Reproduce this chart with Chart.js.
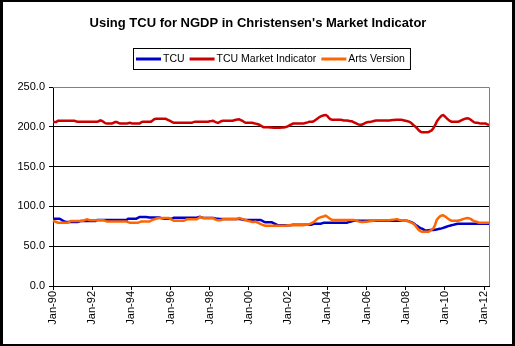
<!DOCTYPE html>
<html>
<head>
<meta charset="utf-8">
<script src="https://cdn.jsdelivr.net/npm/chart.js@4.4.1/dist/chart.umd.min.js"></script>
<style>
  body { margin: 0; background: #fff; }
  #wrap { width: 515px; height: 346px; }
</style>
</head>
<body>
<div id="wrap"><canvas id="chart" width="515" height="346"></canvas></div>
<script>
// categories: monthly, Jan-90 .. Apr-12
const monthNames = ['Jan','Feb','Mar','Apr','May','Jun','Jul','Aug','Sep','Oct','Nov','Dec'];
const years = ['90','91','92','93','94','95','96','97','98','99','00','01',
               '02','03','04','05','06','07','08','09','10','11','12'];
let months = [];
years.forEach(function (y, k) {
    let n = (k === years.length - 1) ? 4 : 12;
    for (let m = 0; m < n; m++) months.push(monthNames[m] + '-' + y);
});

const yTicks = [0, 50, 100, 150, 200, 250];

// TCU
const tcu = [
    84.5, 84.5, 84.5, 84.5, 84.5, 83.5, 82.0, 81.2, 80.5, 80.5, 80.5, 80.5,
    80.5, 80.5, 80.5, 80.5, 81.0, 81.8, 81.8, 81.8, 81.8, 81.8, 81.8, 81.8,
    81.8, 81.8, 81.8, 83.0, 83.0, 83.0, 83.0, 83.0, 83.0, 83.0, 83.0, 83.0,
    83.0, 83.0, 83.0, 83.0, 83.0, 83.0, 83.0, 83.0, 83.0, 83.0, 84.5, 84.5,
    84.5, 84.5, 84.5, 84.5, 85.5, 86.7, 86.7, 86.7, 86.7, 86.7, 86.5, 86.2,
    86.2, 86.2, 86.2, 86.2, 86.2, 86.2, 85.5, 85.0, 84.6, 84.6, 84.6, 84.6,
    84.6, 84.6, 85.8, 85.8, 85.8, 85.8, 85.8, 85.8, 85.8, 85.8, 85.8, 85.8,
    85.8, 85.8, 85.8, 85.8, 85.8, 86.4, 87.0, 86.0, 85.4, 85.4, 85.4, 85.4,
    85.4, 85.4, 85.4, 85.0, 84.6, 84.6, 84.2, 84.2, 84.2, 84.2, 84.2, 84.2,
    84.2, 84.2, 84.2, 84.2, 84.2, 84.2, 84.2, 84.0, 83.5, 83.0, 83.0, 83.0,
    83.0, 83.0, 83.0, 83.0, 83.0, 83.0, 83.0, 83.0, 82.0, 81.0, 80.0, 80.0,
    80.0, 80.0, 80.0, 79.0, 78.0, 77.0, 76.2, 76.2, 76.2, 76.2, 76.2, 76.2,
    76.2, 76.2, 76.6, 77.0, 77.0, 77.0, 77.0, 77.0, 77.0, 77.0, 77.0, 77.0,
    77.0, 77.0, 77.0, 77.5, 78.3, 78.3, 78.3, 78.3, 78.3, 79.0, 79.5, 79.5,
    79.5, 79.5, 79.5, 79.5, 79.5, 79.5, 79.5, 79.5, 79.5, 79.5, 79.5, 79.5,
    79.5, 80.2, 80.8, 81.4, 82.0, 82.0, 82.0, 82.0, 82.0, 82.0, 82.0, 82.0,
    82.0, 82.0, 82.0, 82.0, 82.0, 82.0, 82.0, 82.0, 82.0, 82.0, 82.0, 82.0,
    82.0, 82.0, 82.0, 82.0, 82.0, 82.0, 82.0, 82.0, 82.0, 82.0, 82.0, 82.0,
    82.0, 81.8, 81.2, 80.5, 79.5, 78.5, 76.6, 75.5, 74.0, 72.8, 72.0, 70.8,
    69.5, 69.8, 70.0, 70.2, 70.3, 70.3, 70.7, 71.1, 71.5, 72.0, 72.4, 73.1,
    73.8, 74.5, 75.2, 75.8, 76.3, 76.8, 77.3, 77.8, 78.3, 78.3, 78.3, 78.3,
    78.3, 78.3, 78.3, 78.3, 78.3, 78.3, 78.3, 78.3, 78.3, 78.3, 78.3, 78.3,
    78.3, 78.3, 78.3, 78.3
];

// TCU Market Indicator
const market = [
    206.0, 206.0, 206.0, 207.6, 207.6, 207.6, 207.6, 207.6, 207.6, 207.6, 207.6, 207.6,
    207.6, 207.6, 207.0, 206.5, 206.5, 206.5, 206.5, 206.5, 206.5, 206.5, 206.5, 206.5,
    206.5, 206.5, 206.5, 206.5, 207.0, 208.0, 207.5, 206.0, 204.5, 204.0, 204.0, 204.0,
    204.0, 205.0, 206.0, 206.0, 205.0, 204.0, 204.0, 204.0, 204.0, 204.0, 204.5, 205.0,
    204.5, 204.0, 204.0, 204.0, 204.0, 204.0, 205.5, 206.5, 206.5, 206.5, 206.5, 206.5,
    206.5, 208.0, 209.5, 210.0, 210.0, 210.0, 210.0, 210.0, 210.0, 210.0, 209.0, 208.0,
    207.0, 206.0, 205.0, 205.0, 205.0, 205.0, 205.0, 205.0, 205.0, 205.0, 205.0, 205.0,
    205.0, 205.0, 205.8, 206.5, 206.5, 206.5, 206.5, 206.5, 206.5, 206.5, 206.5, 206.5,
    207.0, 207.2, 207.6, 206.5, 205.5, 205.0, 206.0, 207.0, 207.6, 207.6, 207.6, 207.6,
    207.6, 207.6, 207.6, 208.2, 208.8, 209.2, 209.5, 208.5, 207.5, 206.0, 205.0, 205.0,
    205.0, 205.0, 205.0, 204.5, 204.0, 203.5, 203.0, 202.0, 200.5, 199.5, 199.3, 199.3,
    199.3, 199.0, 199.0, 198.8, 198.8, 198.8, 198.8, 198.8, 199.0, 199.0, 199.3, 200.0,
    201.0, 202.0, 203.0, 204.0, 204.0, 204.0, 204.0, 204.0, 204.0, 204.0, 204.5, 205.0,
    205.5, 206.5, 206.5, 206.5, 207.5, 209.0, 210.5, 212.0, 213.0, 214.0, 214.4, 214.8,
    213.5, 211.0, 209.5, 209.0, 209.0, 209.0, 209.0, 209.0, 209.0, 208.5, 208.0, 208.0,
    208.0, 207.5, 207.0, 207.0, 206.0, 205.0, 204.0, 203.0, 202.6, 202.6, 203.5, 204.5,
    205.5, 206.0, 206.0, 206.5, 207.0, 207.5, 208.0, 208.0, 208.0, 208.0, 208.0, 208.0,
    208.0, 208.0, 208.0, 208.2, 208.4, 208.6, 208.8, 209.0, 209.0, 209.0, 208.5, 208.0,
    207.5, 207.0, 206.5, 205.5, 203.5, 201.5, 200.0, 198.0, 195.5, 194.0, 193.0, 193.0,
    193.0, 193.0, 193.5, 194.5, 195.7, 198.5, 202.0, 206.5, 209.5, 212.0, 214.0, 214.7,
    213.0, 211.0, 209.0, 207.5, 206.5, 206.5, 206.5, 206.5, 206.5, 207.0, 208.0, 209.0,
    210.0, 210.5, 210.6, 210.0, 208.5, 207.0, 205.5, 205.0, 205.0, 204.5, 204.0, 204.0,
    204.0, 204.0, 203.0, 202.5
];

// Arts Version
const arts = [
    82.0, 81.2, 80.4, 79.5, 79.5, 79.5, 79.5, 79.5, 79.5, 79.5, 80.6, 81.8,
    81.8, 81.8, 81.8, 81.8, 81.8, 81.8, 81.8, 82.5, 83.2, 83.7, 83.0, 82.5,
    82.5, 82.5, 82.5, 82.5, 82.5, 82.5, 82.5, 82.5, 81.8, 81.0, 81.0, 81.0,
    81.0, 81.0, 81.0, 81.0, 81.0, 81.0, 81.0, 81.0, 81.0, 81.0, 80.2, 79.5,
    79.5, 79.5, 79.5, 79.5, 79.5, 80.2, 81.0, 81.0, 81.0, 81.0, 81.0, 81.0,
    82.0, 83.0, 83.7, 84.5, 85.0, 85.4, 85.4, 85.4, 85.4, 85.4, 85.4, 85.4,
    84.0, 83.0, 82.0, 82.0, 82.0, 82.0, 82.0, 82.0, 82.0, 82.8, 83.7, 83.7,
    83.7, 83.7, 83.7, 83.7, 83.7, 85.0, 86.6, 86.0, 85.4, 85.4, 85.4, 85.4,
    85.4, 85.4, 85.4, 84.0, 83.0, 82.5, 82.5, 83.0, 83.7, 83.7, 83.7, 83.7,
    83.7, 83.7, 83.7, 83.7, 83.7, 84.5, 85.4, 85.0, 84.0, 83.5, 83.0, 82.0,
    81.5, 81.0, 80.5, 80.5, 81.0, 80.0, 79.0, 78.0, 77.0, 76.2, 75.8, 75.8,
    75.8, 75.8, 75.8, 75.8, 75.8, 75.8, 75.8, 75.8, 75.8, 75.8, 75.8, 76.0,
    76.2, 76.2, 76.2, 76.2, 76.2, 76.2, 76.2, 76.2, 76.2, 76.2, 76.6, 76.8,
    77.0, 77.8, 78.6, 79.5, 81.0, 82.8, 84.6, 85.5, 86.4, 87.0, 87.6, 88.3,
    87.0, 85.5, 84.0, 83.0, 83.0, 83.0, 83.0, 83.0, 83.0, 83.0, 83.0, 83.0,
    83.0, 83.0, 83.0, 83.0, 83.0, 82.4, 81.8, 81.2, 80.8, 80.4, 80.4, 80.6,
    80.8, 81.0, 81.2, 81.6, 82.0, 82.3, 82.5, 82.5, 82.5, 82.5, 82.5, 82.5,
    82.5, 82.5, 82.5, 82.8, 83.1, 83.4, 83.7, 83.7, 83.0, 82.5, 82.0, 82.0,
    82.0, 82.0, 81.0, 80.0, 79.0, 77.9, 75.5, 73.0, 70.3, 69.0, 68.2, 68.2,
    68.2, 68.2, 68.2, 69.5, 71.0, 72.4, 77.0, 83.0, 85.5, 87.5, 88.5, 88.7,
    87.5, 86.0, 84.5, 83.0, 82.0, 82.0, 82.0, 82.0, 82.0, 82.5, 83.2, 84.0,
    84.7, 85.2, 85.4, 85.0, 84.0, 82.5, 81.5, 81.2, 80.0, 79.5, 79.5, 79.5,
    79.5, 79.5, 79.5, 79.5
];

const FONT = "'Liberation Sans', Arial, sans-serif";

// frame, plot border, title and boxed legend
const decor = {
    id: 'decor',
    beforeDraw(chart) {
        const ctx = chart.ctx;
        ctx.save();
        ctx.fillStyle = '#fff';
        ctx.fillRect(0, 0, chart.width, chart.height);
        ctx.restore();
    },
    afterDraw(chart) {
        const ctx = chart.ctx;
        const a = chart.chartArea;
        ctx.save();

        // grey plot border, top and right
        ctx.strokeStyle = '#808080';
        ctx.lineWidth = 1;
        ctx.beginPath();
        ctx.moveTo(a.left, a.top + 0.5);
        ctx.lineTo(a.right + 0.5, a.top + 0.5);
        ctx.lineTo(a.right + 0.5, a.bottom);
        ctx.stroke();

        // title
        ctx.fillStyle = '#000';
        ctx.font = 'bold 13px ' + FONT;
        ctx.textAlign = 'center';
        ctx.textBaseline = 'middle';
        ctx.fillText('Using TCU for NGDP in Christensen\'s Market Indicator', 258, 23);

        // legend
        ctx.font = '10.5px ' + FONT;
        ctx.textAlign = 'left';
        const sets = chart.data.datasets;
        const lineLen = 25, gap = 2, sep = 5;
        let total = 0;
        sets.forEach(function (d, i) {
            total += lineLen + gap + ctx.measureText(d.label).width;
            if (i < sets.length - 1) total += sep;
        });
        let x = Math.round(270.5 - total / 2);
        const yMid = 59;
        ctx.strokeStyle = '#000';
        ctx.lineWidth = 1;
        ctx.strokeRect(x - 2.5, 48.5, total + 8, 21);
        sets.forEach(function (d) {
            ctx.strokeStyle = d.borderColor;
            ctx.lineWidth = 3;
            ctx.beginPath();
            ctx.moveTo(x, yMid);
            ctx.lineTo(x + lineLen, yMid);
            ctx.stroke();
            x += lineLen + gap;
            ctx.fillStyle = '#000';
            ctx.fillText(d.label, x, yMid + 0.5);
            x += ctx.measureText(d.label).width + sep;
        });

        // outer black frame
        ctx.fillStyle = '#000';
        ctx.fillRect(0, 0, chart.width, 2);
        ctx.fillRect(0, chart.height - 2, chart.width, 2);
        ctx.fillRect(0, 0, 3, chart.height);
        ctx.fillRect(chart.width - 3, 0, 3, chart.height);
        ctx.restore();
    }
};

Chart.defaults.color = '#000';
Chart.defaults.font.family = FONT;
Chart.defaults.font.size = 11;

new Chart(document.getElementById('chart').getContext('2d'), {
    type: 'line',
    data: {
        labels: months,
        datasets: [
            { label: 'TCU', data: tcu, borderColor: '#0000CC', order: 2 },
            { label: 'TCU Market Indicator', data: market, borderColor: '#CC0000', order: 1 },
            { label: 'Arts Version', data: arts, borderColor: '#FF6600', order: 0 }
        ]
    },
    options: {
        responsive: false,
        animation: false,
        events: [],
        elements: {
            line: { borderWidth: 2.5, tension: 0, fill: false },
            point: { radius: 0 }
        },
        layout: { padding: { left: 0, right: 26, top: 87, bottom: 0 } },
        plugins: {
            legend: { display: false },
            title: { display: false },
            tooltip: { enabled: false }
        },
        scales: {
            x: {
                type: 'category',
                offset: false,
                afterFit(s) { s.height = 60; },
                grid: {
                    offset: false,
                    drawOnChartArea: false,
                    drawTicks: true,
                    tickLength: 4,
                    tickColor: '#000'
                },
                border: { display: true, color: '#000', width: 1 },
                ticks: {
                    autoSkip: false,
                    maxRotation: 90,
                    minRotation: 90,
                    padding: 1,
                    callback: function (v, i) {
                        return i % 24 === 0 ? months[i] : null;
                    }
                }
            },
            y: {
                min: 0,
                max: 250,
                afterFit(s) { s.width = 53; },
                afterBuildTicks(s) { s.ticks = yTicks.map(function (v) { return { value: v }; }); },
                grid: {
                    color: function (c) {
                        if (c.tick.value === 0) return 'rgba(0,0,0,0)';
                        return c.tick.value === 250 ? '#808080' : '#000';
                    },
                    tickColor: '#000',
                    tickLength: 4
                },
                border: { display: true, color: '#000', width: 1 },
                ticks: {
                    padding: 4,
                    callback: function (v) { return v.toFixed(1); }
                }
            }
        }
    },
    plugins: [decor]
});
</script>
</body>
</html>
